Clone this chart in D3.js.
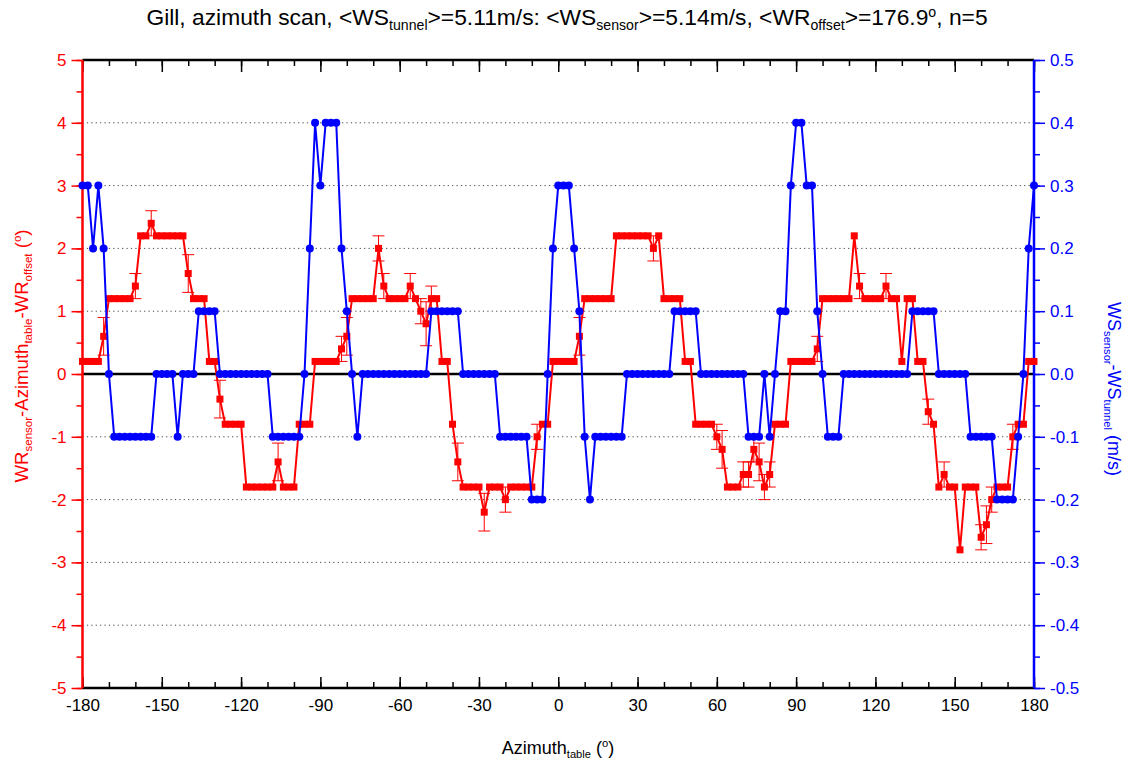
<!DOCTYPE html>
<html>
<head>
<meta charset="utf-8">
<script src="https://cdn.jsdelivr.net/npm/d3@7"></script>
<style>
  body { margin: 0; background: #fff; }
  svg { display: block; font-family: "Liberation Sans", Arial, sans-serif; }
</style>
</head>
<body>
<div id="chart"></div>
<script>
// ── Data ───────────────────────────────────────────────────────────────────
const azimuth = [
  -180, -178, -176, -174, -172, -170, -168, -166, -164, -162,
  -160, -158, -156, -154, -152, -150, -148, -146, -144, -142,
  -140, -138, -136, -134, -132, -130, -128, -126, -124, -122,
  -120, -118, -116, -114, -112, -110, -108, -106, -104, -102,
  -100, -98, -96, -94, -92, -90, -88, -86, -84, -82,
  -80, -78, -76, -74, -72, -70, -68, -66, -64, -62,
  -60, -58, -56, -54, -52, -50, -48, -46, -44, -42,
  -40, -38, -36, -34, -32, -30, -28, -26, -24, -22,
  -20, -18, -16, -14, -12, -10, -8, -6, -4, -2,
  0, 2, 4, 6, 8, 10, 12, 14, 16, 18,
  20, 22, 24, 26, 28, 30, 32, 34, 36, 38,
  40, 42, 44, 46, 48, 50, 52, 54, 56, 58,
  60, 62, 64, 66, 68, 70, 72, 74, 76, 78,
  80, 82, 84, 86, 88, 90, 92, 94, 96, 98,
  100, 102, 104, 106, 108, 110, 112, 114, 116, 118,
  120, 122, 124, 126, 128, 130, 132, 134, 136, 138,
  140, 142, 144, 146, 148, 150, 152, 154, 156, 158,
  160, 162, 164, 166, 168, 170, 172, 174, 176, 178,
  180
];

// WR_sensor - Azimuth_table - WR_offset (deg), left axis
const wrDev = [
  0.2, 0.2, 0.2, 0.2, 0.6, 1.2, 1.2, 1.2, 1.2, 1.2,
  1.4, 2.2, 2.2, 2.4, 2.2, 2.2, 2.2, 2.2, 2.2, 2.2,
  1.6, 1.2, 1.2, 1.2, 0.2, 0.2, -0.4, -0.8, -0.8, -0.8,
  -0.8, -1.8, -1.8, -1.8, -1.8, -1.8, -1.8, -1.4, -1.8, -1.8,
  -1.8, -0.8, -0.8, -0.8, 0.2, 0.2, 0.2, 0.2, 0.2, 0.4,
  0.6, 1.2, 1.2, 1.2, 1.2, 1.2, 2.0, 1.4, 1.2, 1.2,
  1.2, 1.2, 1.4, 1.2, 1.0, 0.8, 1.2, 1.2, 0.2, 0.2,
  -0.8, -1.4, -1.8, -1.8, -1.8, -1.8, -2.2, -1.8, -1.8, -1.8,
  -2.0, -1.8, -1.8, -1.8, -1.8, -1.8, -1.0, -0.8, -0.8, 0.2,
  0.2, 0.2, 0.2, 0.2, 0.6, 1.2, 1.2, 1.2, 1.2, 1.2,
  1.2, 2.2, 2.2, 2.2, 2.2, 2.2, 2.2, 2.2, 2.0, 2.2,
  1.2, 1.2, 1.2, 1.2, 0.2, 0.2, -0.8, -0.8, -0.8, -0.8,
  -1.0, -1.2, -1.8, -1.8, -1.8, -1.6, -1.6, -1.2, -1.4, -1.8,
  -1.6, -0.8, -0.8, -0.8, 0.2, 0.2, 0.2, 0.2, 0.2, 0.4,
  1.2, 1.2, 1.2, 1.2, 1.2, 1.2, 2.2, 1.4, 1.2, 1.2,
  1.2, 1.2, 1.4, 1.2, 1.2, 0.2, 1.2, 1.2, 0.2, 0.2,
  -0.6, -0.8, -1.8, -1.6, -1.8, -1.8, -2.8, -1.8, -1.8, -1.8,
  -2.6, -2.4, -2.0, -1.8, -1.8, -1.8, -1.0, -0.8, -0.8, 0.2,
  0.2
];

// standard deviation of WR (error bars), 0 = none visible
const wrErr = [
  0, 0, 0, 0, 0.3, 0, 0, 0, 0, 0,
  0.2, 0, 0, 0.2, 0, 0, 0, 0, 0, 0,
  0.3, 0, 0, 0, 0, 0, 0.3, 0, 0, 0,
  0, 0, 0, 0, 0, 0, 0, 0.3, 0, 0,
  0, 0, 0, 0, 0, 0, 0, 0, 0, 0.2,
  0.3, 0, 0, 0, 0, 0, 0.2, 0.2, 0, 0,
  0, 0, 0.2, 0, 0.2, 0.35, 0.2, 0, 0, 0,
  0, 0.3, 0, 0, 0, 0, 0.3, 0, 0, 0,
  0.2, 0, 0, 0, 0, 0, 0.2, 0, 0, 0,
  0, 0, 0, 0, 0.3, 0, 0, 0, 0, 0,
  0, 0, 0, 0, 0, 0, 0, 0, 0.2, 0,
  0, 0, 0, 0, 0, 0, 0, 0, 0, 0,
  0.2, 0.3, 0, 0, 0, 0.2, 0.2, 0.2, 0.3, 0.2,
  0.2, 0, 0, 0, 0, 0, 0, 0, 0, 0.2,
  0, 0, 0, 0, 0, 0, 0, 0.2, 0, 0,
  0, 0, 0.2, 0, 0, 0, 0, 0, 0, 0,
  0.2, 0, 0, 0.2, 0, 0, 0, 0, 0, 0,
  0.2, 0.3, 0.2, 0, 0, 0, 0.2, 0, 0, 0,
  0
];

// WS_sensor - WS_tunnel (m/s), right axis
const wsDev = [
  0.3, 0.3, 0.2, 0.3, 0.2, 0, -0.1, -0.1, -0.1, -0.1,
  -0.1, -0.1, -0.1, -0.1, 0, 0, 0, 0, -0.1, 0,
  0, 0, 0.1, 0.1, 0.1, 0.1, 0, 0, 0, 0,
  0, 0, 0, 0, 0, 0, -0.1, -0.1, -0.1, -0.1,
  -0.1, -0.1, 0, 0.2, 0.4, 0.3, 0.4, 0.4, 0.4, 0.2,
  0.1, 0, -0.1, 0, 0, 0, 0, 0, 0, 0,
  0, 0, 0, 0, 0, 0, 0.1, 0.1, 0.1, 0.1,
  0.1, 0.1, 0, 0, 0, 0, 0, 0, 0, -0.1,
  -0.1, -0.1, -0.1, -0.1, -0.1, -0.2, -0.2, -0.2, 0, 0.2,
  0.3, 0.3, 0.3, 0.2, 0.1, -0.1, -0.2, -0.1, -0.1, -0.1,
  -0.1, -0.1, -0.1, 0, 0, 0, 0, 0, 0, 0,
  0, 0, 0.1, 0.1, 0.1, 0.1, 0.1, 0, 0, 0,
  0, 0, 0, 0, 0, 0, -0.1, -0.1, -0.1, 0,
  -0.1, 0, 0.1, 0.1, 0.3, 0.4, 0.4, 0.3, 0.3, 0.1,
  0, -0.1, -0.1, -0.1, 0, 0, 0, 0, 0, 0,
  0, 0, 0, 0, 0, 0, 0, 0.1, 0.1, 0.1,
  0.1, 0.1, 0, 0, 0, 0, 0, 0, -0.1, -0.1,
  -0.1, -0.1, -0.1, -0.2, -0.2, -0.2, -0.2, -0.1, 0, 0.2,
  0.3
];

const xTicks = [-180, -150, -120, -90, -60, -30, 0, 30, 60, 90, 120, 150, 180];
const leftTicks = [-5, -4, -3, -2, -1, 0, 1, 2, 3, 4, 5];
const rightTicks = [-0.5, -0.4, -0.3, -0.2, -0.1, 0.0, 0.1, 0.2, 0.3, 0.4, 0.5];
const gridValues = [-4, -3, -2, -1, 1, 2, 3, 4];

// ── Dimensions ─────────────────────────────────────────────────────────────
const W = 1134, H = 768;
const margin = { top: 60, right: 100, bottom: 80, left: 82.5 };
const width = 1034 - margin.left;
const height = 688 - margin.top;

const RED = "#ff0000";
const BLUE = "#0000ff";

const svg = d3.select("#chart").append("svg")
  .attr("width", W).attr("height", H);

const g = svg.append("g")
  .attr("transform", `translate(${margin.left},${margin.top})`);

// ── Scales ─────────────────────────────────────────────────────────────────
const x = d3.scaleLinear().domain([-180, 180]).range([0, width]);
const yL = d3.scaleLinear().domain([-5, 5]).range([height, 0]);
const yR = d3.scaleLinear().domain([-0.5, 0.5]).range([height, 0]);

// ── Grid lines ─────────────────────────────────────────────────────────────
g.append("g").selectAll("line")
  .data(gridValues)
  .join("line")
  .attr("x1", 0).attr("x2", width)
  .attr("y1", d => yL(d)).attr("y2", d => yL(d))
  .attr("stroke", "#444")
  .attr("stroke-width", 1)
  .attr("stroke-dasharray", "1.2,3.2");

// zero line
g.append("line")
  .attr("x1", 0).attr("x2", width)
  .attr("y1", yL(0)).attr("y2", yL(0))
  .attr("stroke", "#000").attr("stroke-width", 2.5);

// ── Axes ───────────────────────────────────────────────────────────────────
const minorX = d3.range(-180, 181, 10);
const minorL = d3.range(-5, 5.01, 0.5);
const minorR = d3.range(-0.5, 0.501, 0.05);

// plain hyphen minus, as in the original
const fmtInt = d => String(d);
const fmtOne = d => d.toFixed(1);

function styleAxis(sel, color) {
  sel.select(".domain").remove();
  sel.selectAll("line").attr("stroke", color).attr("stroke-width", 1.5);
  sel.selectAll("text").attr("fill", color)
    .style("font-family", "'Liberation Sans', Arial, sans-serif")
    .style("font-size", "17px");
}

// bottom (ticks inward)
g.append("g").attr("transform", `translate(0,${height})`)
  .call(d3.axisBottom(x).tickValues(minorX).tickSize(-6).tickFormat(""))
  .call(s => styleAxis(s, "#000"));
g.append("g").attr("transform", `translate(0,${height})`)
  .call(d3.axisBottom(x).tickValues(xTicks).tickSize(-11).tickPadding(11).tickFormat(fmtInt))
  .call(s => styleAxis(s, "#000"));

// top (ticks inward, no labels)
g.append("g")
  .call(d3.axisTop(x).tickValues(minorX).tickSize(-6).tickFormat(""))
  .call(s => styleAxis(s, "#000"));
g.append("g")
  .call(d3.axisTop(x).tickValues(xTicks).tickSize(-12).tickFormat(""))
  .call(s => styleAxis(s, "#000"));

// left (red, outward)
g.append("g")
  .call(d3.axisLeft(yL).tickValues(minorL).tickSize(6).tickFormat(""))
  .call(s => styleAxis(s, RED));
g.append("g")
  .call(d3.axisLeft(yL).tickValues(leftTicks).tickSize(11).tickPadding(5).tickFormat(fmtInt))
  .call(s => styleAxis(s, RED));

// right (blue, outward)
g.append("g").attr("transform", `translate(${width},0)`)
  .call(d3.axisRight(yR).tickValues(minorR).tickSize(6).tickFormat(""))
  .call(s => styleAxis(s, BLUE));
g.append("g").attr("transform", `translate(${width},0)`)
  .call(d3.axisRight(yR).tickValues(rightTicks).tickSize(11).tickPadding(5).tickFormat(fmtOne))
  .call(s => styleAxis(s, BLUE));

// frame lines
g.append("line").attr("x1", 0).attr("x2", width).attr("y1", 0).attr("y2", 0)
  .attr("stroke", "#000").attr("stroke-width", 2.5);
g.append("line").attr("x1", 0).attr("x2", width).attr("y1", height).attr("y2", height)
  .attr("stroke", "#000").attr("stroke-width", 2.5);
g.append("line").attr("x1", 0).attr("x2", 0).attr("y1", 0).attr("y2", height)
  .attr("stroke", RED).attr("stroke-width", 2.5);
g.append("line").attr("x1", width).attr("x2", width).attr("y1", 0).attr("y2", height)
  .attr("stroke", BLUE).attr("stroke-width", 2.5);

// ── Red series: WR deviation ───────────────────────────────────────────────
const wrData = azimuth.map((a, i) => ({ a, v: wrDev[i], e: wrErr[i] }));
const wsData = azimuth.map((a, i) => ({ a, v: wsDev[i] }));

const errG = g.append("g").attr("stroke", RED).attr("stroke-width", 1);
wrData.filter(d => d.e > 0).forEach(d => {
  const cx = x(d.a);
  errG.append("line").attr("x1", cx).attr("x2", cx)
    .attr("y1", yL(d.v - d.e)).attr("y2", yL(d.v + d.e));
  [d.v - d.e, d.v + d.e].forEach(v => {
    errG.append("line").attr("x1", cx - 6).attr("x2", cx + 6)
      .attr("y1", yL(v)).attr("y2", yL(v));
  });
});

g.append("path")
  .datum(wrData)
  .attr("fill", "none")
  .attr("stroke", RED)
  .attr("stroke-width", 2)
  .attr("d", d3.line().x(d => x(d.a)).y(d => yL(d.v)));

g.selectAll(".sq")
  .data(wrData)
  .join("rect")
  .attr("class", "sq")
  .attr("x", d => x(d.a) - 3.5)
  .attr("y", d => yL(d.v) - 3.5)
  .attr("width", 7).attr("height", 7)
  .attr("fill", RED);

// ── Blue series: WS deviation ──────────────────────────────────────────────
g.append("path")
  .datum(wsData)
  .attr("fill", "none")
  .attr("stroke", BLUE)
  .attr("stroke-width", 2)
  .attr("d", d3.line().x(d => x(d.a)).y(d => yR(d.v)));

g.selectAll(".dot")
  .data(wsData)
  .join("circle")
  .attr("class", "dot")
  .attr("cx", d => x(d.a))
  .attr("cy", d => yR(d.v))
  .attr("r", 4)
  .attr("fill", BLUE);

// ── Labels ─────────────────────────────────────────────────────────────────
function richText(sel, parts, size) {
  parts.forEach(p => {
    const t = sel.append("tspan").text(p.t);
    if (p.sub) t.attr("font-size", size * 0.62).attr("baseline-shift", "-35%");
    else if (p.sup) t.attr("font-size", size * 0.62).attr("baseline-shift", "60%");
    else t.attr("font-size", size);
  });
}

const title = svg.append("text")
  .attr("x", 567).attr("y", 25)
  .attr("text-anchor", "middle")
  .attr("fill", "#000");
richText(title, [
  { t: "Gill, azimuth scan, <WS" }, { t: "tunnel", sub: true },
  { t: ">=5.11m/s: <WS" }, { t: "sensor", sub: true },
  { t: ">=5.14m/s, <WR" }, { t: "offset", sub: true },
  { t: ">=176.9" }, { t: "o", sup: true }, { t: ", n=5" }
], 22.8);

const xLabel = svg.append("text")
  .attr("x", 558).attr("y", 754)
  .attr("text-anchor", "middle")
  .attr("fill", "#000");
richText(xLabel, [
  { t: "Azimuth" }, { t: "table", sub: true }, { t: " (" }, { t: "o", sup: true }, { t: ")" }
], 18);

const yLabelL = svg.append("text")
  .attr("transform", `translate(28,356) rotate(-90)`)
  .attr("text-anchor", "middle")
  .attr("fill", RED);
richText(yLabelL, [
  { t: "WR" }, { t: "sensor", sub: true }, { t: "-Azimuth" }, { t: "table", sub: true },
  { t: "-WR" }, { t: "offset", sub: true }, { t: " (" }, { t: "o", sup: true }, { t: ")" }
], 18.6);

const yLabelR = svg.append("text")
  .attr("transform", `translate(1108,${margin.top + height / 2 + 15}) rotate(90)`)
  .attr("text-anchor", "middle")
  .attr("fill", BLUE);
richText(yLabelR, [
  { t: "WS" }, { t: "sensor", sub: true }, { t: "-WS" }, { t: "tunnel", sub: true },
  { t: " (m/s)" }
], 18);
</script>
</body>
</html>
